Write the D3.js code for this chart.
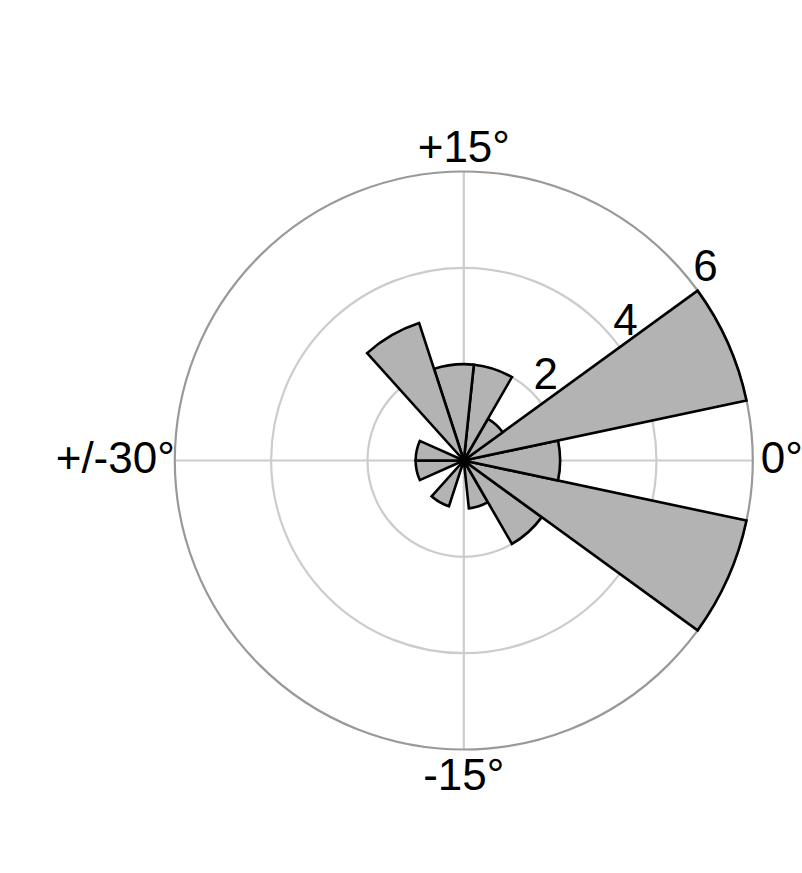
<!DOCTYPE html>
<html>
<head>
<meta charset="utf-8">
<script src="https://cdn.jsdelivr.net/npm/d3@7"></script>
<style>
  body { margin: 0; background: #fff; }
  text { font-family: "Liberation Sans", Arial, sans-serif; fill: #000; }
</style>
</head>
<body>
<svg id="chart" width="802" height="873"></svg>
<script>
// bins of 4 degrees, start of each bin
const binStarts = [-30, -26, -22, -18, -14, -10, -6, -2, 2, 6, 10, 14, 18, 22, 26]
const binWidth = 4
const counts = [1, 0, 1, 0, 1, 2, 6, 2, 6, 1, 2, 2, 3, 0, 1]

const radialTicks = [2, 4, 6]
const angleTicks = [0, 15, 30, -15]
const angleLabels = ['0°', '+15°', '+/-30°', '-15°']

const svg = d3.select('#chart')

const cx = 463.8
const cy = 460.5
const R = 289

const rScale = d3.scaleLinear().domain([0, 6]).range([0, R])
// data degrees -> math angle (ccw from east)
const aScale = d3.scaleLinear().domain([-30, 30]).range([-Math.PI, Math.PI])
// d3.arc wants clockwise from 12 o'clock
const toArc = v => Math.PI / 2 - aScale(v)

const g = svg.append('g').attr('transform', `translate(${cx}, ${cy})`)

// grid lines through the centre
g.selectAll('line.grid')
  .data([0, 15])
  .join('line')
  .attr('class', 'grid')
  .attr('x1', d => -R * Math.cos(aScale(d)))
  .attr('y1', d => R * Math.sin(aScale(d)))
  .attr('x2', d => R * Math.cos(aScale(d)))
  .attr('y2', d => -R * Math.sin(aScale(d)))
  .attr('stroke', '#cccccc')
  .attr('stroke-width', 2.2)

g.selectAll('circle.ring')
  .data(radialTicks)
  .join('circle')
  .attr('class', 'ring')
  .attr('r', d => rScale(d))
  .attr('fill', 'none')
  .attr('stroke', d => d === 6 ? '#999999' : '#cccccc')
  .attr('stroke-width', 2.2)

const arc = d3.arc()
  .innerRadius(0)
  .outerRadius(d => rScale(d.count))
  .startAngle(d => toArc(d.start + binWidth))
  .endAngle(d => toArc(d.start))

const bins = binStarts.map((s, i) => ({start: s, count: counts[i]}))

g.selectAll('path.bar')
  .data(bins.filter(d => d.count > 0))
  .join('path')
  .attr('class', 'bar')
  .attr('d', arc)
  .attr('fill', '#b3b3b3')
  .attr('stroke', '#000')
  .attr('stroke-width', 2.6)
  .attr('stroke-linejoin', 'miter')

// radial labels along a ray at 34 deg
const labelAngle = 34 * Math.PI / 180
g.selectAll('text.rlab')
  .data(radialTicks)
  .join('text')
  .attr('class', 'rlab')
  .attr('x', d => rScale(d) * Math.cos(labelAngle) + 2)
  .attr('y', d => -rScale(d) * Math.sin(labelAngle) - 18)
  .attr('text-anchor', 'middle')
  .attr('font-size', 44)
  .text(d => d)

// angular labels
const anchors = ['start', 'middle', 'end', 'middle']
const pos = [
  {x: R + 8, y: 12},
  {x: 0, y: -R - 9.5},
  {x: -R, y: 12},
  {x: 0, y: R + 40}
]
g.selectAll('text.alab')
  .data(angleTicks)
  .join('text')
  .attr('class', 'alab')
  .attr('x', (d, i) => pos[i].x)
  .attr('y', (d, i) => pos[i].y)
  .attr('text-anchor', (d, i) => anchors[i])
  .attr('font-size', 44)
  .text((d, i) => angleLabels[i])
</script>
</body>
</html>
